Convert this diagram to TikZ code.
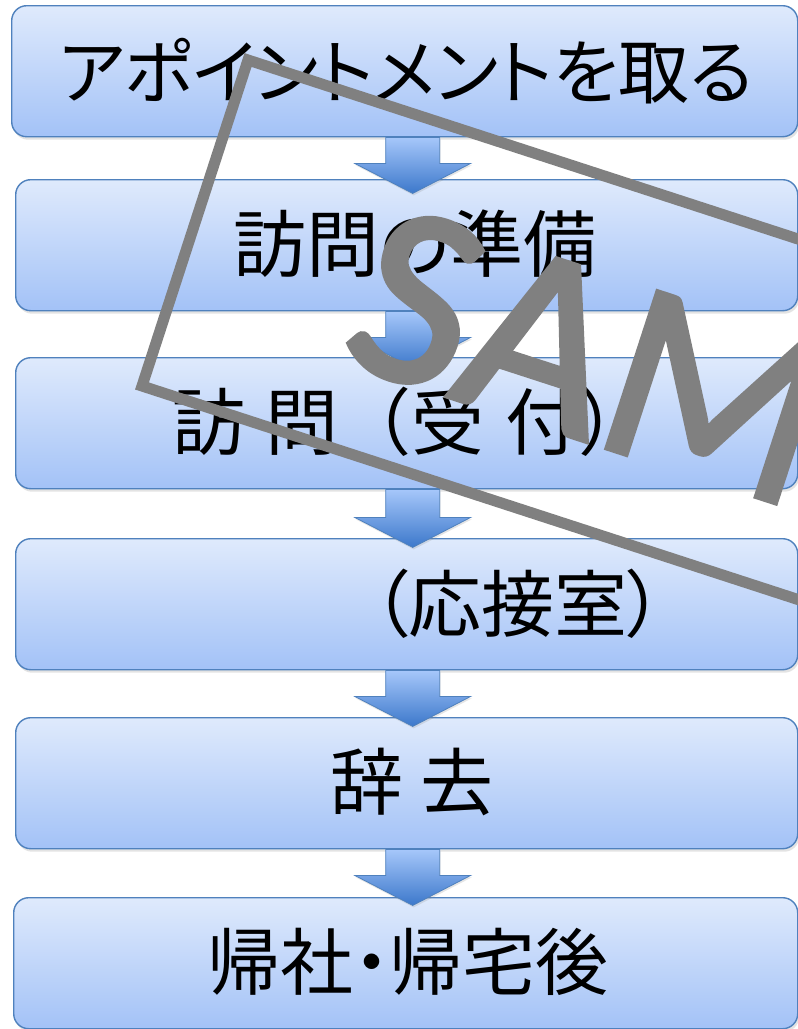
\documentclass[tikz,border=0pt]{standalone}
\usepackage{fontspec}
\newfontfamily\jp{Noto Sans CJK JP}[RawFeature=+palt]
\newfontfamily\jpf{Noto Sans CJK JP}
\newfontfamily\stampfont{Carlito}[FakeBold=2]
\usetikzlibrary{shadows}
\definecolor{boxline}{HTML}{4F81BD}
\definecolor{boxtop}{HTML}{DFEAFC}
\definecolor{boxbot}{HTML}{A3C2F7}
\definecolor{arrtop}{HTML}{A6C7FA}
\definecolor{arrbot}{HTML}{3C78CB}
\definecolor{stampgray}{HTML}{808080}
\begin{document}
\begin{tikzpicture}[x=1pt,y=-1pt,
  box/.style={draw=boxline, line width=1.4pt, rounded corners=15pt,
    top color=boxtop, bottom color=boxbot, anchor=north west, inner sep=0pt,
    minimum width=#1, minimum height=131pt,
    drop shadow={opacity=0.22, shadow xshift=1.5pt, shadow yshift=-3pt}},
  box/.default=782pt,
  arr/.style={draw=boxline, line width=0.8pt, line join=miter,
    top color=arrtop, bottom color=arrbot,
    drop shadow={opacity=0.2, shadow xshift=1pt, shadow yshift=-2pt}},
  lbl/.style={inner sep=0pt, font=\jp\fontsize{73}{80}\selectfont, text=black},
  stampline/.style={draw=stampgray, line width=11pt, line join=miter},
  stamptext/.style={inner sep=0pt, text=stampgray, font=\stampfont\fontsize{256}{256}\selectfont, rotate=-18, anchor=base west}
]
\useasboundingbox (0,0) rectangle (798,1029);
\clip (0,0) rectangle (798,1029);
\fill[white] (0,0) rectangle (798,1029);

% boxes
\node[box=786pt] (b1) at (11,5) {};
\node[box] (b2) at (15,179) {};
\node[box] (b3) at (15,357) {};
\node[box] (b4) at (15,538) {};
\node[box] (b5) at (15,717) {};
\node[box=784pt] (b6) at (13,897) {};

% arrows
\path[arr] ([xshift=-19pt]b1.south) -- ++(0,26) -- ++(-31,0) -- ++(58,30) -- ++(58,-30) -- ++(-31,0) -- ++(0,-26) -- cycle;
\path[arr] ([xshift=-21pt]b2.south) -- ++(0,26) -- ++(-31,0) -- ++(58,30) -- ++(58,-30) -- ++(-31,0) -- ++(0,-26) -- cycle;
\path[arr] ([xshift=-21pt]b3.south) -- ++(0,28) -- ++(-31,0) -- ++(58,30) -- ++(58,-30) -- ++(-31,0) -- ++(0,-28) -- cycle;
\path[arr] ([xshift=-21pt]b4.south) -- ++(0,26) -- ++(-31,0) -- ++(58,30) -- ++(58,-30) -- ++(-31,0) -- ++(0,-26) -- cycle;
\path[arr] ([xshift=-21pt]b5.south) -- ++(0,26) -- ++(-31,0) -- ++(58,30) -- ++(58,-30) -- ++(-31,0) -- ++(0,-26) -- cycle;

% labels
\node[lbl, font=\jp\fontsize{71}{80}\selectfont] (t1) at (406,71) {アポイントメントを取る};
\node[lbl] (t2) at (415,244) {訪問の準備};
\node[lbl, font=\jpf\fontsize{73}{80}\selectfont] (t3) at (412,422) {訪\hspace{21pt}問（受\hspace{21pt}付）};
\node[lbl] (t4) at (518,604) {（応接室）};
\node[lbl] (t5) at (412,782) {辞 去};
\node[lbl] (t6) at (408,962) {帰社・帰宅後};

% stamp
\draw[stampline] (1056,323) -- (248,60) -- (142,386) -- (950,649);
\node[stamptext] (stamp) at (336,360) {SAMPLE};
\end{tikzpicture}
\end{document}
